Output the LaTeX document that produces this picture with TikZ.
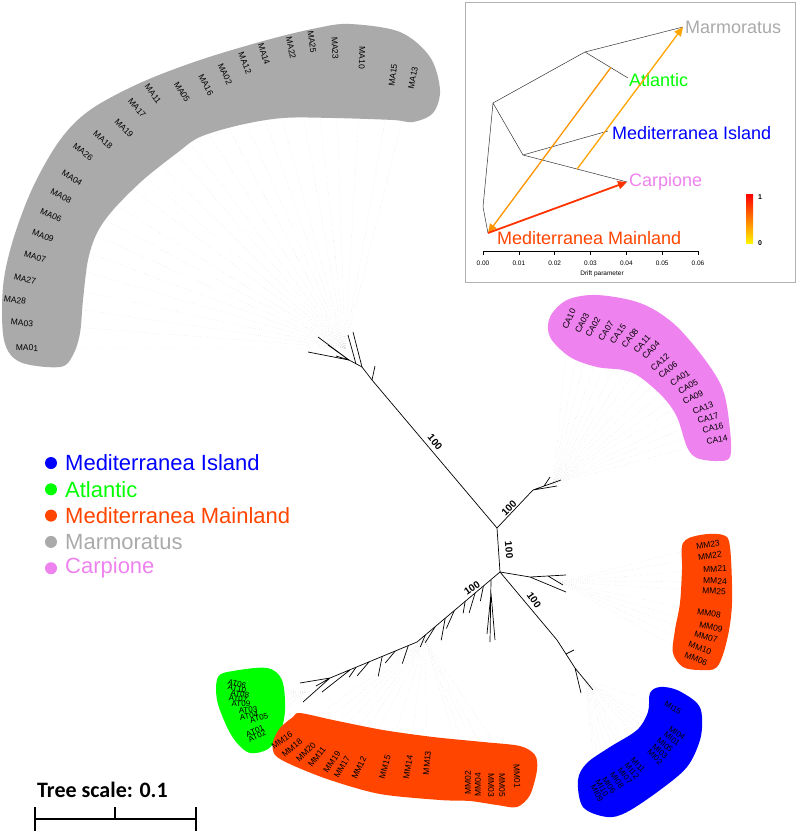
\documentclass[tikz,border=0pt]{standalone}
\usepackage{fontspec}
\setmainfont{Liberation Sans}
\newfontfamily\calfont{Carlito}
\usetikzlibrary{arrows.meta,calc}
\definecolor{marmGray}{HTML}{AAAAAA}
\definecolor{carpViolet}{HTML}{EE82EE}
\definecolor{mainRed}{HTML}{FF4500}
\definecolor{islBlue}{HTML}{0000FF}
\definecolor{atlGreen}{HTML}{00FF00}
\definecolor{migOrange}{HTML}{FFA500}
\definecolor{migRed}{HTML}{FF3300}
\pgfdeclarelayer{guides}
\pgfdeclarelayer{blobs}
\pgfsetlayers{guides,blobs,main}

\begin{document}
\begin{tikzpicture}[x=1pt, y=-1pt, >={Triangle[length=9pt,width=8pt]},
    leaf/.style={font=\fontsize{8.5}{8.5}\selectfont, inner sep=0pt},
    guide/.style={black!22, dotted, line width=0.3pt},
    branch/.style={line width=0.7pt},
    boot/.style={font=\bfseries\fontsize{10}{10}\selectfont, inner sep=0pt},
    popname/.style={font=\fontsize{18}{18}\selectfont, anchor=west, inner sep=0pt},
    legtext/.style={font=\fontsize{22}{22}\selectfont, anchor=west, inner sep=0pt}]
  \useasboundingbox (0,0) rectangle (797,833);

  % clade blobs
  \begin{pgfonlayer}{blobs}
    \fill[marmGray] plot[smooth cycle, tension=0.55] coordinates {(60,367) (20,362) (4,340) (3,287) (13,240) (33,187) (60,140) (90,110) (140,83) (200,60) (267,40) (317,28) (350,24) (400,32) (430,57) (440,90) (433,113) (413,122) (393,120) (333,118) (283,118) (240,125) (200,137) (177,153) (143,180) (113,210) (97,233) (88,260) (83,300) (80,333) (73,355)};
    \fill[carpViolet] plot[smooth cycle, tension=0.55] coordinates {(550,317) (567,300) (597,295) (640,303) (673,323) (703,357) (723,390) (730,430) (730,457) (717,461) (697,458) (687,447) (677,417) (663,397) (640,377) (623,370) (597,367) (570,357) (550,337)};
    \fill[mainRed] plot[smooth cycle, tension=0.55] coordinates {(683,543) (700,535) (723,535) (730,547) (732,603) (727,640) (717,667) (700,670) (683,667) (673,653) (675,630) (680,603) (682,570)};
    \fill[islBlue] plot[smooth cycle, tension=0.55] coordinates {(650,693) (660,687) (677,690) (697,703) (702,717) (700,740) (687,767) (660,790) (627,812) (607,817) (583,807) (578,780) (587,763) (610,747) (637,730) (648,712)};
    \fill[atlGreen] plot[smooth cycle, tension=0.55] coordinates {(218,677) (233,671) (267,668) (282,680) (285,710) (280,733) (268,749) (250,753) (237,743) (227,727) (217,700)};
    \fill[mainRed] plot[smooth cycle, tension=0.5] coordinates {(273,742) (280,728) (293,717) (300,713) (333,720) (383,730) (433,737) (483,742) (520,746) (535,755) (537,770) (530,795) (517,807) (497,805) (470,801) (440,800) (380,794) (330,780) (292,765) (275,755)};
  \end{pgfonlayer}

  % main tree
  \foreach \p/\x/\y in {n1/497/528, n2/500/572,
      m0/372/380, m1/362/367, m2/349/360, m3/356/364,
      ta1/308/352, ta2/318/337, ta3/328/345, ta4/353/332, ta5/348/335, ta6/375/366, ta7/336/356,
      c0/533/490, c1/544/486, tc1/561/480, tc2/550/477, tc3/557/486,
      r0/530/577, r1/548/576, tr1/566/575, tr2/566/592, tr3/563/585,
      i0/557/640, i1/575/668, i2/566/654, ti1/593/690, ti2/581/693, ti3/574/650,
      l0/417/642, l1/330/678, l2/350/670, tl1/300/683, tl2/303/702, tl3/316/686, tl4/322/692,
      v0/491/580, v1/491/593, tv1/490/642, tv2/487/634, tv3/495/640}
    \coordinate (\p) at (\x,\y);
  \draw[branch] (n1) -- (n2);
  \draw[branch] (n1) -- (m0) -- (m1) -- (m2) -- (ta1);
  \draw[branch] (m2) -- (ta2) (m2) -- (ta3) (m1) -- (ta4) (m3) -- (ta5) (m0) -- (ta6) (m2) -- (ta7);
  \draw[branch] (n1) -- (c0) -- (tc1) (c1) -- (tc2) (c0) -- (tc3);
  \draw[branch] (n2) -- (r0) -- (tr1) (r0) -- (tr2) (r1) -- (tr3);
  \draw[branch] (n2) -- (i0) -- (i1) -- (ti1) (i1) -- (ti2) (i2) -- (ti3);
  \draw[branch] (n2) -- (l0) -- (l1) -- (tl1) (l1) -- (tl2) (l1) -- (tl3) (l2) -- (tl4);
  \draw[branch] (v0) -- (tv1) (v1) -- (tv2) (v1) -- (tv3);
  \foreach \t/\dx/\dy in {0.2/-3/15, 0.3/-6/20, 0.42/-2/12, 0.55/-8/18, 0.66/-4/22, 0.78/-10/16, 0.9/-5/12}
    \draw[branch] ($(n2)!\t!(l0)$) -- ++(\dx,\dy);
  \foreach \t/\dx/\dy in {0.1/-6/18, 0.25/-10/12, 0.4/-4/20, 0.55/-12/14, 0.7/-7/10}
    \draw[branch] ($(l0)!\t!(l1)$) -- ++(\dx,\dy);

  % bootstrap values
  \node[boot, rotate=-50] (bs1) at (435,442) {100};
  \node[boot, rotate=45] (bs2) at (509,508) {100};
  \node[boot, rotate=-85] (bs3) at (509,550) {100};
  \node[boot, rotate=-55] (bs4) at (534,600) {100};
  \node[boot, rotate=35] (bs5) at (472,588) {100};

  % leaf labels
  \coordinate (macen) at (345,348);
  \coordinate (cacen) at (553,484);
  \coordinate (mrcen) at (560,582);
  \coordinate (micen) at (585,680);
  \coordinate (atcen) at (305,692);
  \coordinate (mbcen) at (425,640);
  \foreach \nm/\x/\y/\r in {MA01/27/348/-1, MA03/22/323/-5, MA28/15/300/-8, MA27/25/279/-12,
      MA07/35/257/-16, MA09/43/236/-20, MA06/51/215/-24, MA08/61/196/-28, MA04/72/178/-32,
      MA26/83/152/-37, MA18/103/140/-41, MA19/124/128/-46, MA17/137/108/-50, MA11/153/94/-54,
      MA05/182/92/-58, MA16/206/85/-62, MA02/225/74/-65, MA12/245/63/-68, MA14/264/54/-72,
      MA22/291/48/-78, MA25/312/42/-83, MA23/335/48/-87, MA10/362/58/-91, MA15/393/75/82,
      MA13/413/78/79} {
    \node[leaf, rotate=\r] (\nm) at (\x,\y) {\nm};
    \begin{pgfonlayer}{guides}\draw[guide] (macen) -- (\nm);\end{pgfonlayer}
  }
  \foreach \nm/\x/\y/\r in {CA10/569/319/66, CA03/582/323/63, CA02/593/327/60, CA07/606/331/57,
      CA15/618/334/54, CA08/630/338/51, CA11/642/344/48, CA04/651/350/45, CA12/660/362/41,
      CA06/668/370/37, CA01/680/378/33, CA05/688/387/30, CA09/693/397/26, CA13/703/408/21,
      CA17/708/418/17, CA16/713/428/14, CA14/717/440/10} {
    \node[leaf, rotate=\r] (\nm) at (\x,\y) {\nm};
    \begin{pgfonlayer}{guides}\draw[guide] (cacen) -- (\nm);\end{pgfonlayer}
  }
  \foreach \nm/\x/\y/\r in {MM23/708/545/10, MM22/710/556/8, MM21/715/569/3, MM24/715/581/-1,
      MM25/714/591/-4, MM08/709/613/-9, MM09/711/627/-13, MM07/706/637/-16, MM10/700/648/-19,
      MM06/696/659/-22} {
    \node[leaf, rotate=\r] (\nm) at (\x,\y) {\nm};
    \begin{pgfonlayer}{guides}\draw[guide] (mrcen) -- (\nm);\end{pgfonlayer}
  }
  \foreach \nm/\x/\y/\r in {MI15/673/708/-30, MI04/677/733/-35, MI01/672/739/-38, MI05/665/745/-40,
      MI03/660/751/-42, MI02/655/757/-45, MI11/638/765/-48, MI12/632/771/-50, MI07/625/776/-52,
      MI08/617/780/-55, MI06/609/785/-57, MI10/602/788/-60, MI09/597/793/-62} {
    \node[leaf, font=\fontsize{8}{8}\selectfont, rotate=\r] (\nm) at (\x,\y) {\nm};
    \begin{pgfonlayer}{guides}\draw[guide] (micen) -- (\nm);\end{pgfonlayer}
  }
  \foreach \nm/\x/\y/\r in {AT06/237/684/-15, AT10/237/689/-12, AT08/240/694/-8, AT07/238/699/-5,
      AT09/241/704/0, AT03/248/710/5, AT04/249/716/10, AT05/259/718/15, AT01/255/731/22,
      AT02/257/736/25} {
    \node[leaf, font=\fontsize{8}{8}\selectfont, rotate=\r] (\nm) at (\x,\y) {\nm};
    \begin{pgfonlayer}{guides}\draw[guide] (atcen) -- (\nm);\end{pgfonlayer}
  }
  \foreach \nm/\x/\y/\r in {MM16/282/740/35, MM18/292/748/40, MM20/306/752/45, MM11/317/757/52,
      MM19/332/762/55, MM17/342/767/60, MM12/359/768/65, MM15/385/767/75, MM14/408/767/80,
      MM13/427/763/85, MM02/468/783/90, MM04/478/785/90, MM03/491/785/-90, MM05/502/785/-90,
      MM01/517/776/-88} {
    \node[leaf, rotate=\r] (\nm) at (\x,\y) {\nm};
    \begin{pgfonlayer}{guides}\draw[guide] (mbcen) -- (\nm);\end{pgfonlayer}
  }

  % legend
  \foreach \i/\c/\t in {0/islBlue/Mediterranea Island, 1/atlGreen/Atlantic,
      2/mainRed/Mediterranea Mainland, 3/marmGray/Marmoratus, 4/carpViolet/Carpione} {
    \node[circle, fill=\c, minimum size=12pt, inner sep=0pt] (dot\i) at (51,463+26.3*\i) {};
    \node[legtext, text=\c] (leg\i) at (65,463+26.3*\i) {\t};
  }

  % tree scale
  \node[font=\calfont\bfseries\fontsize{22}{22}\selectfont, anchor=base west, inner sep=0pt] (tscale) at (37,797) {Tree scale: 0.1};
  \draw[line width=2.5pt] (35,819) -- (196,819) (35,807) -- (35,831) (196,807) -- (196,831) (115,807) -- (115,819);

  % inset: drift tree with migration edges
  \draw[gray!60, fill=white, line width=0.8pt] (465,2) rectangle (795,282);
  \foreach \p/\x/\y in {tMarm/683/27, iA/585/52, tAtl/628/78, iB/493/103, iC/523/155,
      tIsl/608/131, tCarp/627/182, iR/483/207, tMain/488/233}
    \coordinate (\p) at (\x,\y);
  \draw[black!80, line width=0.5pt] (tMarm) -- (iA) -- (iB) -- (iC) -- (tIsl) (iA) -- (tAtl) (iC) -- (tCarp) (iB) -- (iR) -- (tMain);
  \node[popname, text=marmGray] (pMarm) at (685,27) {Marmoratus};
  \node[popname, text=atlGreen] (pAtl) at (629,80) {Atlantic};
  \node[popname, text=islBlue] (pIsl) at (612,133) {Mediterranea Island};
  \node[popname, text=carpViolet] (pCarp) at (629,182) {Carpione};
  \node[popname, text=mainRed] (pMain) at (497,238) {Mediterranea Mainland};
  \coordinate (fromCarp) at ($(iC)!0.52!(tCarp)$);
  \coordinate (fromAtl) at ($(iA)!0.6!(tAtl)$);
  \draw[->, migOrange, line width=1.3pt] (fromCarp) -- (tMarm);
  \draw[->, migOrange!90!red, line width=1.3pt] (fromAtl) -- (tMain);
  \draw[->, migRed, line width=1.8pt] (tMain) -- (tCarp);
  % drift axis
  \draw[line width=0.4pt] (483,251) -- (698,251);
  \foreach \k in {0,...,6} {
    \draw[line width=0.4pt] (483+35.83*\k,251) -- ++(0,4);
    \node[font=\fontsize{6.5}{6.5}\selectfont, inner sep=0pt] (tk\k) at (483+35.83*\k,263) {0.0\k};
  }
  \node[font=\fontsize{6.5}{6.5}\selectfont, inner sep=0pt] (driftlab) at (602,274) {Drift parameter};
  % colour bar
  \shade[top color=red, middle color=orange, bottom color=yellow!90!orange] (746,194) rectangle (753,243);
  \node[font=\bfseries\fontsize{7}{7}\selectfont, inner sep=0pt] (cbHi) at (760,197) {1};
  \node[font=\bfseries\fontsize{7}{7}\selectfont, inner sep=0pt] (cbLo) at (760,243) {0};
\end{tikzpicture}
\end{document}
